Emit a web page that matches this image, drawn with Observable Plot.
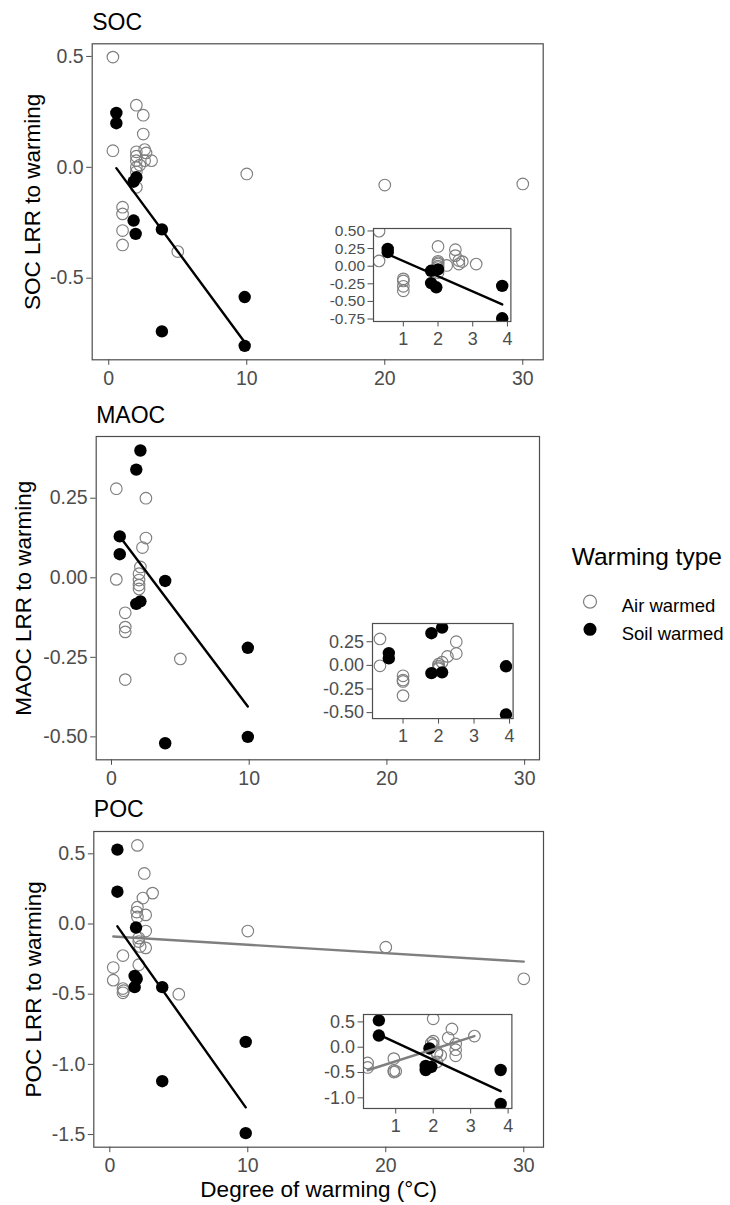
<!DOCTYPE html>
<html>
<head>
<meta charset="utf-8">
<script src="https://cdn.jsdelivr.net/npm/d3@7"></script>
<script src="https://cdn.jsdelivr.net/npm/@observablehq/plot@0.6"></script>
<style>
  html, body { margin: 0; padding: 0; background: #fff; }
  #root { position: relative; width: 730px; height: 1205px; overflow: hidden; }
</style>
</head>
<body>
<div id="root"></div>
<script>
// ---------------- DATA ----------------
const xTicks = [0, 10, 20, 30];
const insetXTicks = [1, 2, 3, 4];
const socYTicks = [-0.5, 0, 0.5];
const maocYTicks = [-0.5, -0.25, 0, 0.25];
const pocYTicks = [-1.5, -1, -0.5, 0, 0.5];
const socInsetYTicks = [-0.75, -0.5, -0.25, 0, 0.25, 0.5];
const maocInsetYTicks = [-0.5, -0.25, 0, 0.25];
const pocInsetYTicks = [-1, -0.5, 0, 0.5];

const panelTitles = ["SOC", "MAOC", "POC"];
const yLabels = ["SOC LRR to warming", "MAOC LRR to warming", "POC LRR to warming"];
const xLabel = "Degree of warming (°C)";
const legendTitle = "Warming type";
const legendLabels = ["Air warmed", "Soil warmed"];

// [degree of warming, LRR]
const socAir = [
  [0.3, 0.497], [0.3, 0.075],
  [1.0, -0.18], [1.0, -0.21], [1.0, -0.285], [1.0, -0.35],
  [2.0, 0.28], [2.0, 0.07], [2.0, 0.05], [2.0, 0.03], [2.0, 0.0], [2.0, -0.02], [2.0, -0.09],
  [2.25, 0.01], [2.5, 0.235], [2.5, 0.15], [2.6, 0.08], [2.6, 0.03], [2.7, 0.065], [3.1, 0.03],
  [5.0, -0.38], [10, -0.03], [20, -0.08], [30, -0.075]
];
const socSoil = [
  [0.55, 0.245], [0.55, 0.199], [1.8, -0.065], [2.0, -0.045], [1.8, -0.24],
  [1.95, -0.30], [3.85, -0.28], [3.85, -0.74], [9.85, -0.585], [9.85, -0.805]
];
const maocAir = [
  [0.35, 0.28], [0.35, -0.005],
  [1.0, -0.11], [1.0, -0.155], [1.0, -0.17], [1.0, -0.32],
  [2.0, 0.013], [2.0, -0.007], [2.0, -0.023], [2.0, -0.035], [2.1, 0.034],
  [2.25, 0.095], [2.5, 0.25], [2.5, 0.125], [5.0, -0.255]
];
const maocSoil = [
  [0.6, 0.13], [0.6, 0.074], [1.8, 0.34], [2.1, 0.40], [1.8, -0.082],
  [2.1, -0.074], [3.9, -0.01], [3.9, -0.52], [9.9, -0.22], [9.9, -0.50]
];
const pocAir = [
  [0.25, -0.31], [0.25, -0.40], [0.95, -0.225], [0.95, -0.46], [0.95, -0.49], [1.0, -0.475],
  [2.0, 0.56], [2.0, 0.12], [1.95, 0.085], [2.0, 0.05], [2.1, -0.10], [2.1, -0.125], [2.1, -0.29],
  [2.2, -0.16], [2.4, 0.185], [2.5, 0.36], [2.6, 0.065], [2.6, -0.05], [2.6, -0.17], [3.1, 0.22],
  [5.0, -0.50], [10, -0.05], [20, -0.165], [30, -0.39]
];
const pocSoil = [
  [0.55, 0.53], [0.55, 0.23], [1.9, -0.025], [1.8, -0.37], [1.95, -0.39],
  [1.8, -0.45], [3.8, -0.45], [3.8, -1.12], [9.85, -0.84], [9.85, -1.49]
];

// ---------------- LAYOUT ----------------
const FONT = '"Liberation Sans", Arial, Helvetica, sans-serif';
const AIR_COLOR = "#7f7f7f";
const layout = [
  { top: 0, h: 400, mt: 43.3, mb: 40.7, ml: 91.7, mr: 187.3, xd: [-1.2, 31.48], yd: [-0.868, 0.557], dec: 1,
    titleY: 29.3, ylabX: 32.5, fits: { air: false, soil: true },
    inset: { L: 373.3, R: 510.7, T: 227.7, B: 320.7, yd: [-0.785, 0.535], dec: 2, font: 15.5, fits: { air: false, soil: true } } },
  { top: 400, h: 400, mt: 36, mb: 40.7, ml: 95.7, mr: 191, xd: [-1.11, 31.08], yd: [-0.572, 0.444], dec: 2,
    titleY: 22.7, ylabX: 23.3, fits: { air: false, soil: true },
    inset: { L: 371.7, R: 512.3, T: 623.3, B: 718.4, yd: [-0.563, 0.443], dec: 2, font: 18, fits: { air: false, soil: false } } },
  { top: 800, h: 405, mt: 31, mb: 58.3, ml: 93.3, mr: 187, xd: [-1.16, 31.43], yd: [-1.59, 0.659], dec: 1,
    titleY: 16.5, ylabX: 33.7, fits: { air: true, soil: true }, xLabelDy: 49.8,
    inset: { L: 363.3, R: 511.7, T: 1014.3, B: 1108.3, yd: [-1.21, 0.646], dec: 1, font: 18, fits: { air: true, soil: true } } }
];

const series = [
  { air: socAir, soil: socSoil, yTicks: socYTicks, insetYTicks: socInsetYTicks },
  { air: maocAir, soil: maocSoil, yTicks: maocYTicks, insetYTicks: maocInsetYTicks },
  { air: pocAir, soil: pocSoil, yTicks: pocYTicks, insetYTicks: pocInsetYTicks }
];

const toObjs = arr => arr.map(([x, y]) => ({ x, y }));

function fitMarks(air, soil, fits) {
  const m = [];
  if (fits.air) m.push(Plot.linearRegressionY(air, { x: "x", y: "y", stroke: AIR_COLOR, strokeWidth: 2.4, ci: 0 }));
  if (fits.soil) m.push(Plot.linearRegressionY(soil, { x: "x", y: "y", stroke: "#000", strokeWidth: 2.4, ci: 0 }));
  return m;
}

const root = document.getElementById("root");

layout.forEach((p, i) => {
  const s = series[i];
  const air = toObjs(s.air);
  const soil = toObjs(s.soil);

  const marks = [
    Plot.dot(air, { x: "x", y: "y", r: 5.8, stroke: AIR_COLOR, strokeWidth: 1.15, fill: "none" }),
    Plot.dot(soil, { x: "x", y: "y", r: 6.2, fill: "#000" }),
    ...fitMarks(air, soil, p.fits),
    Plot.frame({ stroke: "#4d4d4d", strokeWidth: 1.2 }),
    Plot.text([panelTitles[i]], { text: d => d, frameAnchor: "top-left", textAnchor: "start", lineAnchor: "bottom",
      dy: p.titleY - p.mt, fontSize: 23, fill: "#000" }),
    Plot.text([yLabels[i]], { text: d => d, frameAnchor: "left", textAnchor: "middle", lineAnchor: "middle",
      rotate: -90, dx: p.ylabX - p.ml, fontSize: 22.5, fill: "#000" })
  ];
  if (p.xLabelDy) {
    marks.push(Plot.text([xLabel], { text: d => d, frameAnchor: "bottom", textAnchor: "middle", lineAnchor: "bottom",
      dy: p.xLabelDy, fontSize: 22.5, fill: "#000" }));
  }

  const main = Plot.plot({
    width: 730, height: p.h,
    marginTop: p.mt, marginBottom: p.mb, marginLeft: p.ml, marginRight: p.mr,
    inset: 0,
    x: { domain: p.xd, ticks: xTicks, tickSize: 5.5, tickPadding: 5.5, tickFormat: d => String(d), label: null },
    y: { domain: p.yd, ticks: s.yTicks, tickSize: 5.5, tickPadding: 3, tickFormat: d => d.toFixed(p.dec), label: null },
    style: { fontFamily: FONT, fontSize: "19.5px", color: "#4d4d4d", background: "transparent", overflow: "visible" },
    marks
  });
  main.style.position = "absolute";
  main.style.left = "0px";
  main.style.top = p.top + "px";
  main.style.maxWidth = "none";
  root.appendChild(main);

  // inset (x <= 4 only)
  const q = p.inset;
  const inAir = air.filter(d => d.x <= 4);
  const inSoil = soil.filter(d => d.x <= 4);
  const iml = 58, imr = 2, imt = 3, imb = 32;
  const ins = Plot.plot({
    width: (q.R - q.L) + iml + imr, height: (q.B - q.T) + imt + imb,
    marginTop: imt, marginBottom: imb, marginLeft: iml, marginRight: imr,
    inset: 0,
    x: { domain: [0.14, 4.1], ticks: insetXTicks, tickSize: 5.5, tickPadding: 5.5, tickFormat: d => String(d), label: null },
    y: { domain: q.yd, ticks: s.insetYTicks, tickSize: 5.5, tickPadding: 3, tickFormat: d => d.toFixed(q.dec), label: null },
    style: { fontFamily: FONT, fontSize: "18px", color: "#4d4d4d", background: "transparent", overflow: "visible" },
    marks: [
      Plot.frame({ fill: "#fff" }),
      Plot.dot(inAir, { x: "x", y: "y", r: 5.8, stroke: AIR_COLOR, strokeWidth: 1.15, fill: "none", clip: true }),
      Plot.dot(inSoil, { x: "x", y: "y", r: 6.2, fill: "#000", clip: true }),
      ...fitMarks(inAir, inSoil, q.fits),
      Plot.frame({ stroke: "#4d4d4d", strokeWidth: 1.2 })
    ]
  });
  // y tick labels of the inset may need a smaller size when ticks are dense
  d3.select(ins).selectAll("g[aria-label='y-axis tick label'] text, g[aria-label='y-axis tick label']")
    .attr("font-size", q.font);
  ins.style.position = "absolute";
  ins.style.left = (q.L - iml) + "px";
  ins.style.top = (q.T - imt) + "px";
  ins.style.maxWidth = "none";
  root.appendChild(ins);
});

// ---------------- LEGEND ----------------
const lg = d3.create("svg")
  .attr("width", 170).attr("height", 130)
  .style("position", "absolute").style("left", "560px").style("top", "530px")
  .style("font-family", FONT);
lg.append("text").attr("x", 11.7).attr("y", 35).attr("font-size", 24.5).attr("fill", "#000").text(legendTitle);
const itemY = [71.7, 99.3];
const baseY = [81.7, 110];
legendLabels.forEach((lab, i) => {
  const c = lg.append("circle").attr("cx", 30).attr("cy", itemY[i]).attr("r", 6.5);
  if (i === 0) c.attr("fill", "none").attr("stroke", AIR_COLOR).attr("stroke-width", 1.2);
  else c.attr("fill", "#000");
  lg.append("text").attr("x", 61.7).attr("y", baseY[i]).attr("font-size", 18.5).attr("fill", "#000").text(lab);
});
root.appendChild(lg.node());
</script>
</body>
</html>
